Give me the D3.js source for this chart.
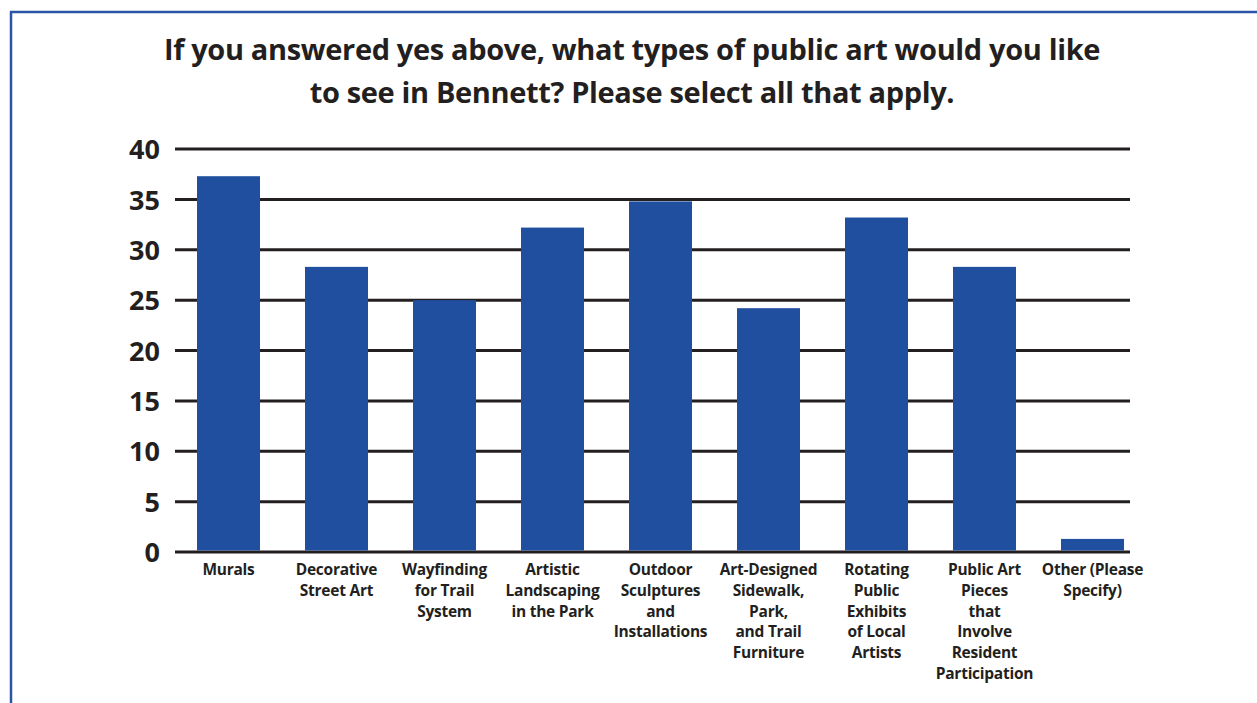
<!DOCTYPE html>
<html><head><meta charset="utf-8">
<script src="https://cdn.jsdelivr.net/npm/d3@7"></script>
<style>body{margin:0;background:#fff;} svg{display:block;}</style>
</head><body>
<svg id="chart" width="1257" height="703"></svg>
<script>
const titleLines = ["If you answered yes above, what types of public art would you like", "to see in Bennett? Please select all that apply."];
const categories = [
  ["Murals"],
  ["Decorative", "Street Art"],
  ["Wayfinding", "for Trail", "System"],
  ["Artistic", "Landscaping", "in the Park"],
  ["Outdoor", "Sculptures", "and", "Installations"],
  ["Art-Designed", "Sidewalk,", "Park,", "and Trail", "Furniture"],
  ["Rotating", "Public", "Exhibits", "of Local", "Artists"],
  ["Public Art", "Pieces", "that", "Involve", "Resident", "Participation"],
  ["Other (Please", "Specify)"]
];
const values = [37.3, 28.3, 25, 32.2, 34.8, 24.2, 33.2, 28.3, 1.3];
const yTicks = [0, 5, 10, 15, 20, 25, 30, 35, 40];

const svg = d3.select("#chart");
const ink = "#231f20", blue = "#1f4f9e";
const font = "'Open Sans', 'Liberation Sans', sans-serif";

// frame
svg.append("rect").attr("x", 11).attr("y", 12).attr("width", 1300).attr("height", 800)
  .attr("fill", "none").attr("stroke", "#2a55a6").attr("stroke-width", 2.5);

// title
svg.append("g").selectAll("text").data(titleLines).join("text")
  .attr("x", 632).attr("y", (d, i) => 60 + i * 43)
  .attr("text-anchor", "middle").attr("font-family", font).attr("font-weight", 700)
  .attr("font-size", 29).attr("fill", ink).attr("letter-spacing", -0.35).text(d => d);

const x = d3.scaleBand().domain(d3.range(categories.length)).range([175, 1146]).paddingInner(0.4167).paddingOuter(0.2037);
const y = d3.scaleLinear().domain([0, 40]).range([552, 149]);

// gridlines
svg.append("g").selectAll("line").data(yTicks).join("line")
  .attr("x1", 175).attr("x2", 1130).attr("y1", d => y(d)).attr("y2", d => y(d))
  .attr("stroke", ink).attr("stroke-width", 3);

// bars
svg.append("g").selectAll("rect").data(values).join("rect")
  .attr("x", (d, i) => x(i)).attr("width", x.bandwidth())
  .attr("y", d => y(d)).attr("height", d => y(0) - 1.5 - y(d)).attr("fill", blue);

// y axis labels
const yAxis = d3.axisLeft(y).tickValues(yTicks).tickSize(0).tickPadding(0);
const ga = svg.append("g").attr("transform", "translate(160,0)").call(yAxis);
ga.select(".domain").remove();
ga.selectAll("text").attr("font-family", font).attr("font-weight", 700).attr("font-size", 27)
  .attr("fill", ink).attr("dy", "0.36em");

// x labels
const gx = svg.append("g");
categories.forEach((lines, i) => {
  const t = gx.append("text").attr("text-anchor", "middle").attr("font-family", font)
    .attr("font-weight", 700).attr("font-size", 15.5).attr("fill", ink).attr("letter-spacing", -0.25);
  lines.forEach((ln, j) => {
    t.append("tspan").attr("x", x(i) + x.bandwidth() / 2).attr("y", 575 + j * 20.8).text(ln);
  });
});
</script>
</body></html>
